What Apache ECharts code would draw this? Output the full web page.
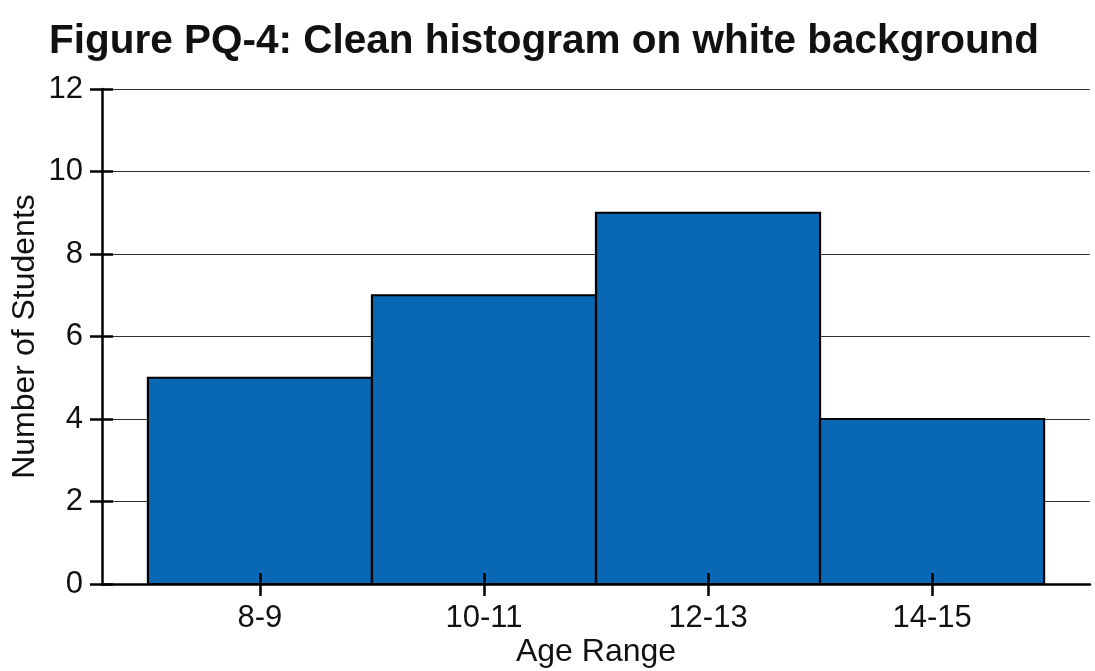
<!DOCTYPE html>
<html>
<head>
<meta charset="utf-8">
<script src="https://cdn.jsdelivr.net/npm/echarts@6/dist/echarts.min.js"></script>
<style>
html,body{margin:0;padding:0;background:#fff;}
#chart{width:1095px;height:671px;}
</style>
</head>
<body>
<div id="chart"></div>
<script>
const titleText = 'Figure PQ-4: Clean histogram on white background';
const categories = ['8-9', '10-11', '12-13', '14-15'];
const counts = [5, 7, 9, 4];
const yTicks = [0, 2, 4, 6, 8, 10, 12];

const font = 'Liberation Sans, Arial, Helvetica, sans-serif';
const binPos = categories.map((c, i) => i);
const chart = echarts.init(document.getElementById('chart'));

const tickStyle = { color: '#000', width: 2.5 };

chart.setOption({
  backgroundColor: '#fff',
  animation: false,
  title: {
    text: titleText,
    left: 44, top: 16,
    textStyle: { fontFamily: font, fontSize: 40.5, fontWeight: 'bold', color: '#111' }
  },
  grid: { left: 102, right: 5, top: 89, bottom: 87, containLabel: false, outerBoundsMode: 'none' },
  xAxis: [{
    type: 'value', min: -0.705, max: 3.705, position: 'bottom',
    axisLine: { show: true, onZero: false, lineStyle: { color: '#000', width: 2.5 } },
    axisTick: { show: true, customValues: binPos, length: 12, inside: false, lineStyle: tickStyle },
    axisLabel: { show: true, customValues: binPos, formatter: v => categories[Math.round(v)],
      fontFamily: font, fontSize: 31, color: '#111', margin: 19 },
    splitLine: { show: false },
    name: 'Age Range', nameLocation: 'middle', nameGap: 52, nameMoveOverlap: false,
    nameTextStyle: { fontFamily: font, fontSize: 32, color: '#111' }
  }, {
    type: 'value', min: -0.705, max: 3.705, position: 'bottom', offset: 0, z: 10,
    axisLine: { show: false, onZero: false },
    axisTick: { show: true, customValues: binPos, length: 11, inside: true, lineStyle: tickStyle },
    axisLabel: { show: false },
    splitLine: { show: false }
  }],
  yAxis: [{
    type: 'value', min: yTicks[0], max: yTicks[yTicks.length - 1], interval: 2, position: 'left',
    axisLine: { show: true, onZero: false, lineStyle: { color: '#000', width: 2.5 } },
    axisTick: { show: true, length: 12, inside: false, lineStyle: tickStyle },
    axisLabel: { fontFamily: font, fontSize: 31, color: '#111', margin: 19 },
    splitLine: { show: true, lineStyle: { color: '#333', width: 1.2 } },
    name: 'Number of Students', nameLocation: 'middle', nameGap: 61, nameMoveOverlap: false,
    nameTextStyle: { fontFamily: font, fontSize: 32, color: '#111' }
  }, {
    type: 'value', min: yTicks[0], max: yTicks[yTicks.length - 1], interval: 2, position: 'left', offset: 0, z: 10,
    axisLine: { show: false, onZero: false },
    axisTick: { show: true, length: 11, inside: true, lineStyle: tickStyle },
    axisLabel: { show: false },
    splitLine: { show: false }
  }],
  series: [{
    type: 'custom',
    xAxisIndex: 0, yAxisIndex: 0,
    data: counts.map((v, i) => [binPos[i], v]),
    renderItem: function (params, api) {
      const x = api.value(0), y = api.value(1);
      const p1 = api.coord([x - 0.5, y]);
      const p2 = api.coord([x + 0.5, 0]);
      return {
        type: 'rect',
        shape: { x: p1[0], y: p1[1], width: p2[0] - p1[0], height: p2[1] - p1[1] },
        style: { fill: '#0868b3', stroke: '#000', lineWidth: 2.2 }
      };
    },
    z: 3
  }]
});
</script>
</body>
</html>
